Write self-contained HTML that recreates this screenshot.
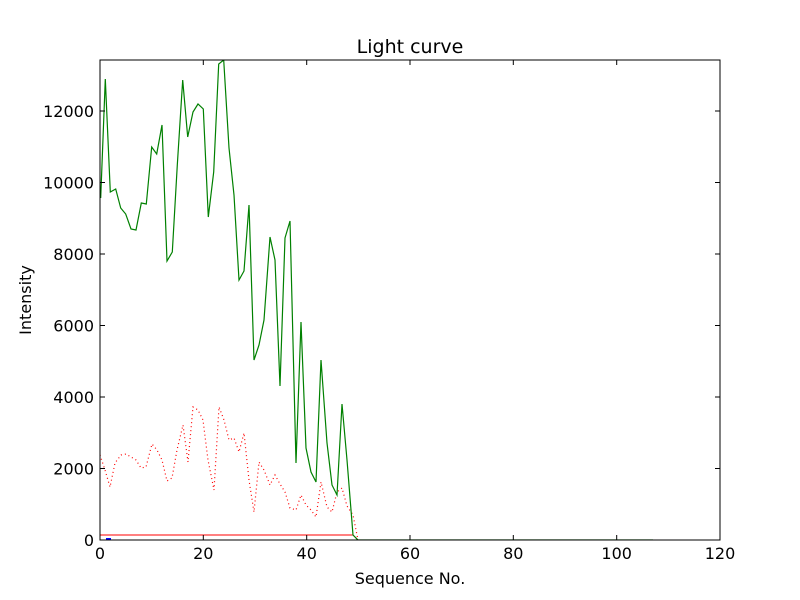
<!DOCTYPE html>
<html><head><style>body{margin:0;background:#fff}svg{display:block}text{font-family:"DejaVu Sans","Liberation Sans",sans-serif}</style></head><body>
<svg width="800" height="600" viewBox="0 0 800 600" xmlns="http://www.w3.org/2000/svg">
<rect width="800" height="600" fill="#fff"/>
<defs><clipPath id="c"><rect x="100" y="60" width="620" height="480"/></clipPath></defs>
<g clip-path="url(#c)" fill="none">
<polyline stroke="#ff0000" stroke-width="1" points="100,535 353,535 358,540 653,540"/>
<polyline stroke="#ff0000" stroke-width="1.2" stroke-dasharray="1,3" points="100,455 105,470 110,487 115,463 121,455 126,454 131,457 136,460 141,468 146,467 152,444 157,450 162,460 167,481 172,478 177,450 183,425 188,462 193,407 198,410 203,420 208,460 214,490 219,407 224,420 229,440 234,438 239,452 244,433 249,480 254,512 259,462 264,470 270,485 275,475 280,484 285,492 290,508 296,510 301,495 306,505 311,510 316,517 321,482 327,507 332,512 337,492 342,488 347,506 353,515 358,540"/>
<polyline stroke="#008000" stroke-width="1.2" points="100.7,198 105.3,79 110.3,192 115.7,189 120.7,208 125.7,214 131,229 136,230 141.3,203 146.3,204 151.7,147 156.7,154 162,125 167,261 172.3,252 177.3,165 182.7,80 187.7,137 193,112 198,104 203.3,109 208.3,217 213.7,172 218.7,64 223.7,60 229,148 234,195 239,280 244,271 249,205 254,360 259,345 264,320 270,237 275,260 280,386 285,238 290,221 296,463 301,322 306,448 311,472 316,482 321,360 327,443 332,485 337,495 342,404 347,460 353,535 358,540 653,540"/>
<line x1="106" y1="539" x2="111" y2="539" stroke="#0000ff" stroke-width="2"/>
</g>
<rect x="100" y="60" width="620" height="480" fill="none" stroke="#000" stroke-width="1"/>
<g stroke="#000" stroke-width="1">
<path d="M203.3,540v-5M306.7,540v-5M410,540v-5M513.3,540v-5M616.7,540v-5M203.3,60v5M306.7,60v5M410,60v5M513.3,60v5M616.7,60v5"/>
<path d="M100,468.5h5M100,397h5M100,325.5h5M100,254h5M100,182.5h5M100,111h5M720,468.5h-5M720,397h-5M720,325.5h-5M720,254h-5M720,182.5h-5M720,111h-5"/>
</g>
<g font-size="16" fill="#000" text-anchor="middle">
<text x="100" y="559">0</text><text x="203.3" y="559">20</text><text x="306.7" y="559">40</text><text x="410" y="559">60</text><text x="513.3" y="559">80</text><text x="616.7" y="559">100</text><text x="720" y="559">120</text>
</g>
<g font-size="16" fill="#000" text-anchor="end">
<text x="94" y="546">0</text><text x="94" y="474.5">2000</text><text x="94" y="403">4000</text><text x="94" y="331.5">6000</text><text x="94" y="260">8000</text><text x="94" y="188.5">10000</text><text x="94" y="117">12000</text>
</g>
<text x="410" y="584" font-size="16" text-anchor="middle">Sequence No.</text>
<text x="31" y="300" font-size="16" text-anchor="middle" transform="rotate(-90 31 300)">Intensity</text>
<text x="410" y="53" font-size="19" text-anchor="middle">Light curve</text>
</svg>
</body></html>
